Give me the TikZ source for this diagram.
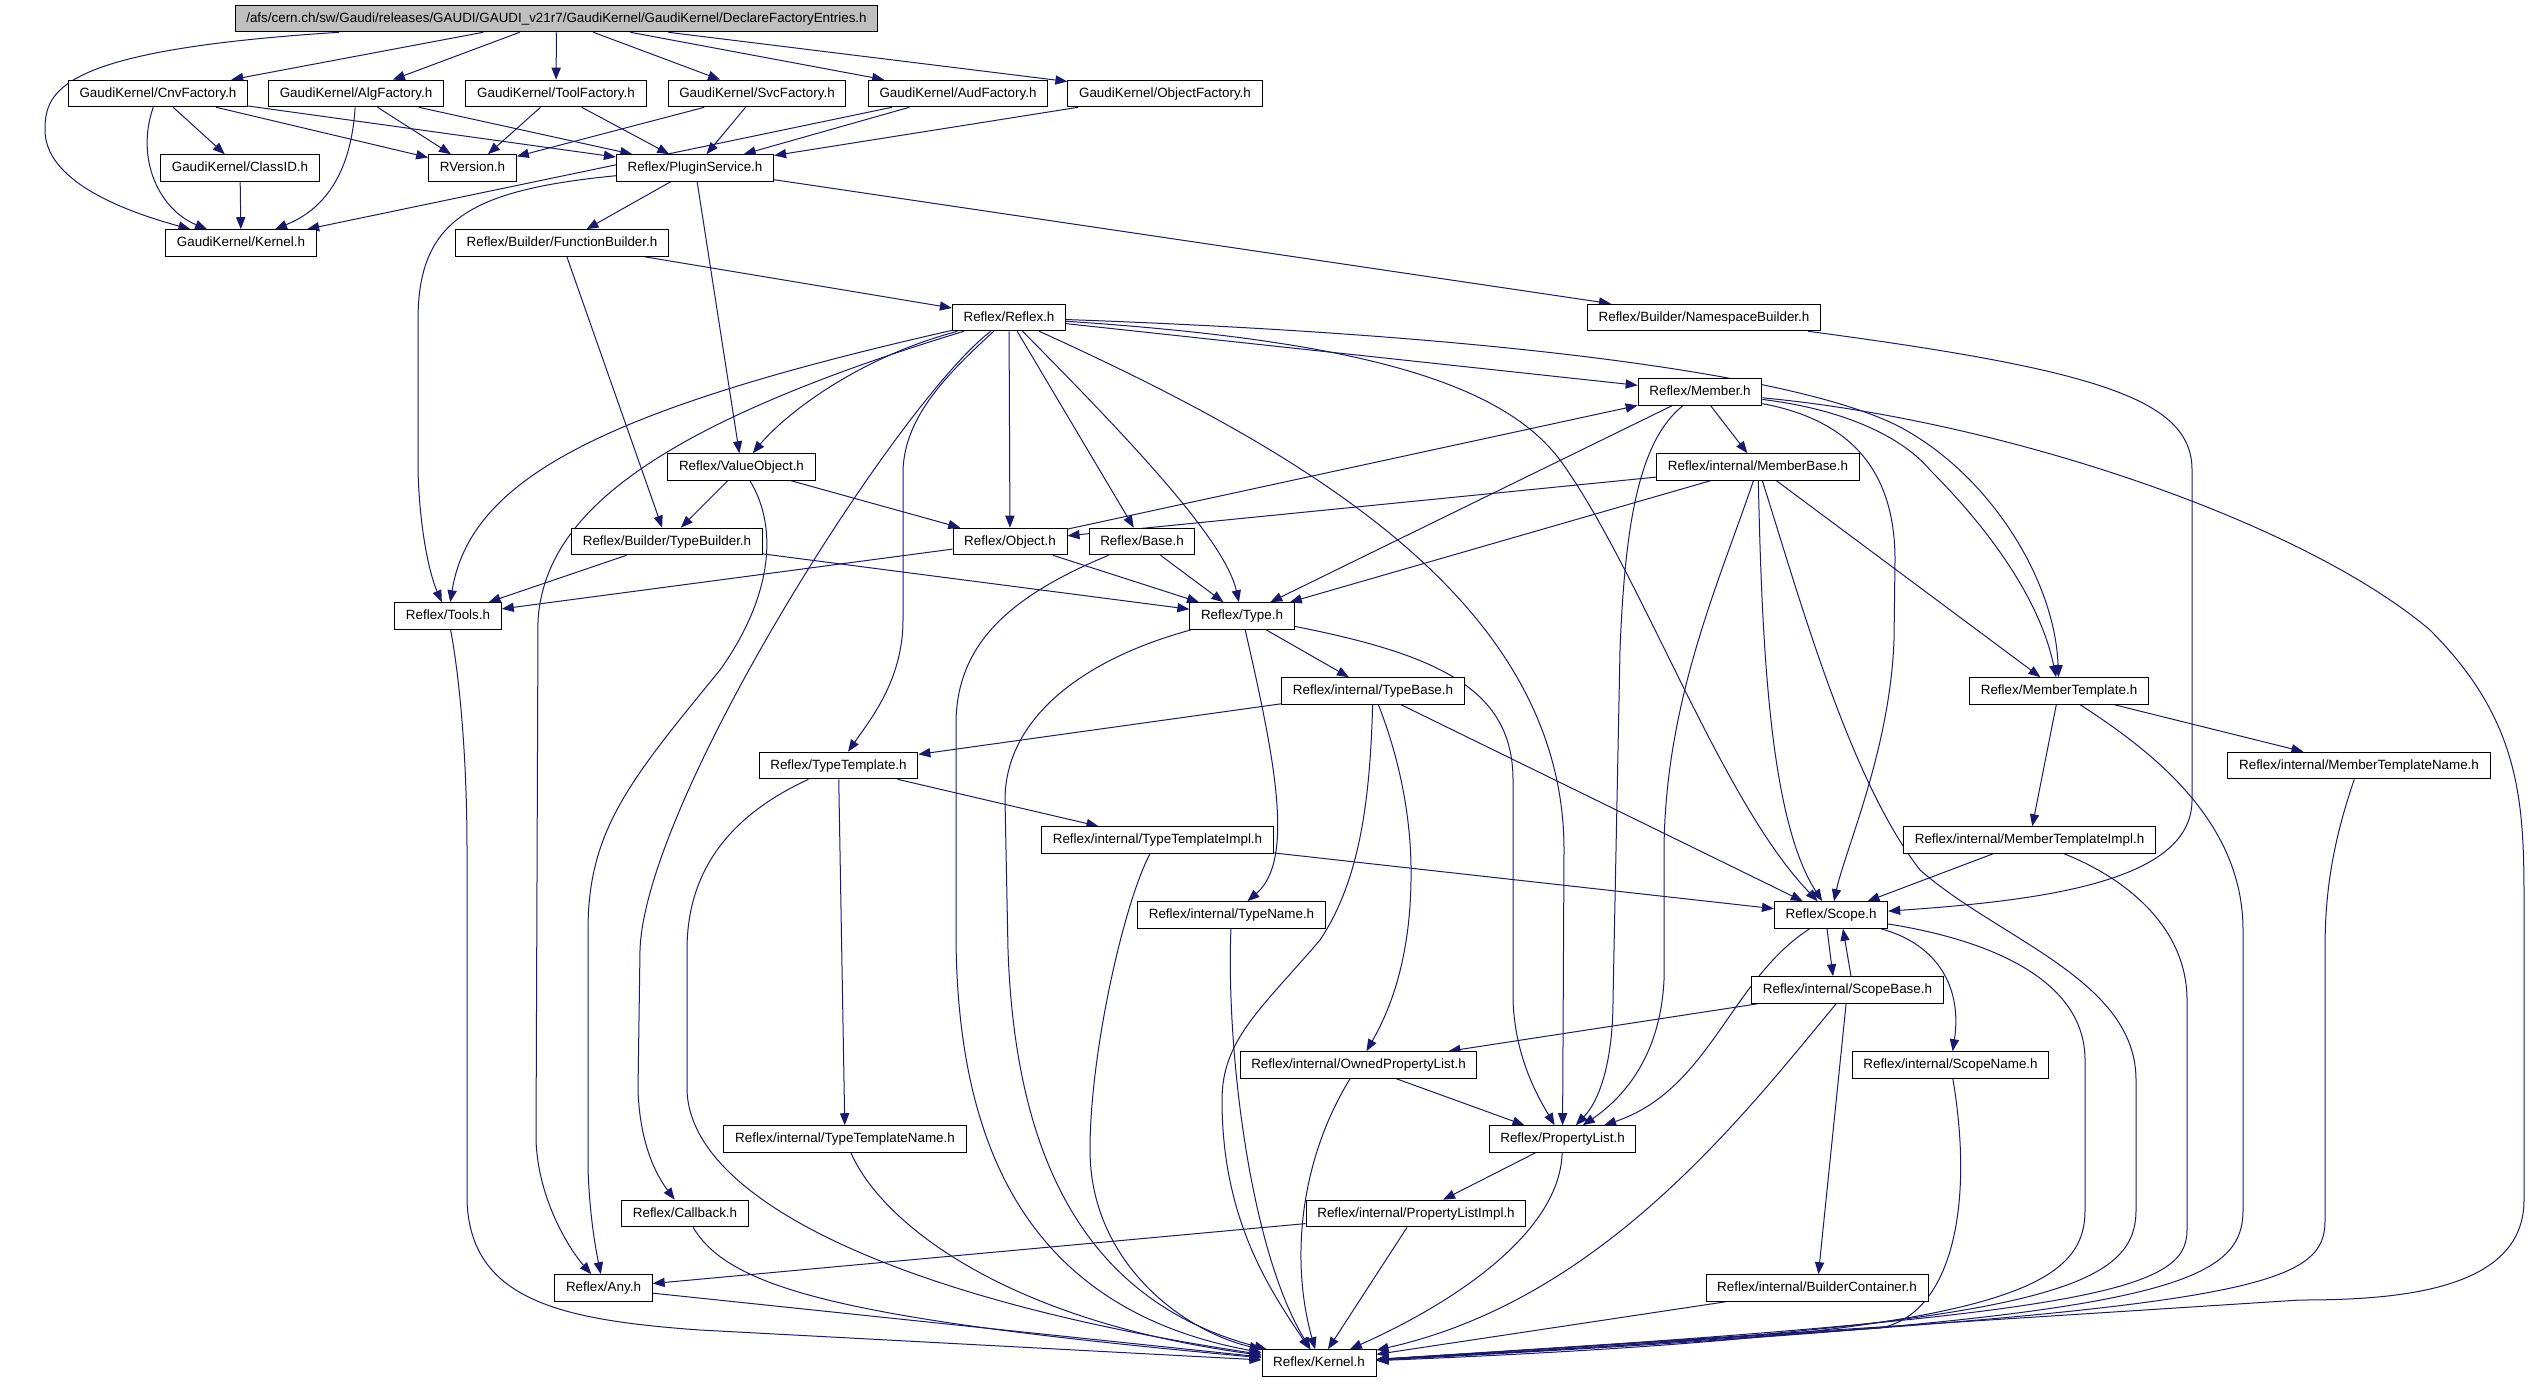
\documentclass[tikz,border=0pt]{standalone}
\usepackage{fontspec}
\setmainfont{Liberation Sans}
\usetikzlibrary{graphs}
\usetikzlibrary{arrows.meta}
\definecolor{midnight}{RGB}{25,25,112}
\pgfdeclarelayer{background}
\pgfsetlayers{background,main}
\tikzset{
  hdr/.style={draw=black, line width=0.5pt, fill=white, inner xsep=5.6pt, inner ysep=0pt,
    minimum height=13.3pt, text height=5pt, text depth=1.4pt, font=\fontsize{6.7}{8}\selectfont},
  rootfile/.style={hdr, fill=black!25},
  dep/.style={draw=midnight, line width=0.5pt}
}

\begin{document}
\begin{tikzpicture}[x=0.5pt, y=0.5pt, >={Triangle[length=6pt,width=4.6pt]}]
    \useasboundingbox (0,0) rectangle (2530,-1381);

    \node (declfe)       [rootfile] at (556.5,-18.5) {/afs/cern.ch/sw/Gaudi/releases/GAUDI/GAUDI\_v21r7/GaudiKernel/GaudiKernel/DeclareFactoryEntries.h};
    \node (cnvfac)       [hdr] at (158,-93.5)    {GaudiKernel/CnvFactory.h};
    \node (algfac)       [hdr] at (356,-93.5)    {GaudiKernel/AlgFactory.h};
    \node (toolfac)      [hdr] at (556,-93.5)    {GaudiKernel/ToolFactory.h};
    \node (svcfac)       [hdr] at (757,-93.5)    {GaudiKernel/SvcFactory.h};
    \node (audfac)       [hdr] at (958,-93.5)    {GaudiKernel/AudFactory.h};
    \node (objfac)       [hdr] at (1165,-93.5)   {GaudiKernel/ObjectFactory.h};
    \node (classid)      [hdr] at (240,-168)     {GaudiKernel/ClassID.h};
    \node (rversion)     [hdr] at (472.5,-168)   {RVersion.h};
    \node (plugin)       [hdr] at (695,-168)     {Reflex/PluginService.h};
    \node (gkern)        [hdr] at (241,-243)     {GaudiKernel/Kernel.h};
    \node (funcb)        [hdr] at (562,-243)     {Reflex/Builder/FunctionBuilder.h};
    \node (reflex)       [hdr] at (1009,-317.5)  {Reflex/Reflex.h};
    \node (nsb)          [hdr] at (1704,-317.5)  {Reflex/Builder/NamespaceBuilder.h};
    \node (member)       [hdr] at (1700,-392)    {Reflex/Member.h};
    \node (valobj)       [hdr] at (741.5,-467)   {Reflex/ValueObject.h};
    \node (membase)      [hdr] at (1758,-467)    {Reflex/internal/MemberBase.h};
    \node (typeb)        [hdr] at (667,-541.5)   {Reflex/Builder/TypeBuilder.h};
    \node (object)       [hdr] at (1010,-541.5)  {Reflex/Object.h};
    \node (base)         [hdr] at (1142,-541.5)  {Reflex/Base.h};
    \node (tools)        [hdr] at (448,-616)     {Reflex/Tools.h};
    \node (type)         [hdr] at (1242,-616)    {Reflex/Type.h};
    \node (typebase)     [hdr] at (1373,-691)    {Reflex/internal/TypeBase.h};
    \node (memtmpl)      [hdr] at (2059,-691)    {Reflex/MemberTemplate.h};
    \node (typetmpl)     [hdr] at (838.5,-765.5) {Reflex/TypeTemplate.h};
    \node (memtmplname)  [hdr] at (2359,-765.5)  {Reflex/internal/MemberTemplateName.h};
    \node (typetmplimpl) [hdr] at (1157.5,-840)  {Reflex/internal/TypeTemplateImpl.h};
    \node (memtmplimpl)  [hdr] at (2029.5,-840)  {Reflex/internal/MemberTemplateImpl.h};
    \node (typename)     [hdr] at (1231.5,-915)  {Reflex/internal/TypeName.h};
    \node (scope)        [hdr] at (1831,-915)    {Reflex/Scope.h};
    \node (scopebase)    [hdr] at (1847.5,-990)  {Reflex/internal/ScopeBase.h};
    \node (ownedpl)      [hdr] at (1358.5,-1065) {Reflex/internal/OwnedPropertyList.h};
    \node (scopename)    [hdr] at (1950.5,-1065) {Reflex/internal/ScopeName.h};
    \node (proplist)     [hdr] at (1562.5,-1139) {Reflex/PropertyList.h};
    \node (typetmplname) [hdr] at (845,-1139)    {Reflex/internal/TypeTemplateName.h};
    \node (callback)     [hdr] at (685,-1213.5)  {Reflex/Callback.h};
    \node (proplistimpl) [hdr] at (1416,-1213.5) {Reflex/internal/PropertyListImpl.h};
    \node (any)          [hdr] at (603.5,-1288)  {Reflex/Any.h};
    \node (buildcont)    [hdr] at (1817,-1288)   {Reflex/internal/BuilderContainer.h};
    \node (rkern)        [hdr] at (1319,-1363)   {Reflex/Kernel.h};

    \begin{pgfonlayer}{background}
    \graph[use existing nodes, edges={dep}]{
        declfe -> {cnvfac, algfac, toolfac, svcfac, audfac, objfac};
        cnvfac -> {classid, rversion, plugin};
        algfac -> {rversion, plugin};
        toolfac -> {rversion, plugin};
        svcfac -> {rversion, plugin};
        audfac -> {gkern, plugin};
        objfac -> plugin;
        classid -> gkern;
        plugin -> {funcb, valobj, nsb};
        funcb -> {reflex, typeb};
        reflex -> {object, base, member};
        member -> {membase, type};
        valobj -> {object, typeb};
        membase -> {object, type, memtmpl};
        typeb -> {tools, type};
        object -> {tools, type, member};
        base -> type;
        type -> typebase;
        typebase -> {typetmpl, scope};
        memtmpl -> {memtmplimpl, memtmplname};
        typetmpl -> {typetmplimpl, typetmplname};
        typetmplimpl -> scope;
        memtmplimpl -> scope;
        scopebase -> {ownedpl, buildcont};
        ownedpl -> proplist;
        proplist -> proplistimpl;
        proplistimpl -> {any, rkern};
        any -> rkern;
        buildcont -> rkern;
    };

    % curved dependencies
    \draw[dep,->] (declfe) .. controls (60,-50) and (45,-90) .. (45,-130) .. controls (45,-180) and (120,-210) .. (gkern);
    \draw[dep,->] (cnvfac) .. controls (135,-160) and (160,-210) .. (gkern);
    \draw[dep,->] (algfac) .. controls (350,-190) and (310,-215) .. (gkern);
    \draw[dep,->] (plugin) .. controls (470,-190) and (418,-220) .. (418,-320) -- (418,-470) .. controls (420,-540) and (432,-580) .. (tools);
    \draw[dep,->] (nsb) .. controls (2100,-370) and (2192,-400) .. (2192,-470) -- (2192,-800) .. controls (2192,-880) and (2050,-900) .. (scope);

    \draw[dep,->] (reflex) .. controls (600,-410) and (470,-480) .. (tools);
    \draw[dep,->] (reflex) .. controls (640,-430) and (545,-520) .. (538,-620) -- (536,-1140) .. controls (538,-1200) and (570,-1250) .. (any);
    \draw[dep,->] (reflex) .. controls (850,-360) and (780,-420) .. (valobj);
    \draw[dep,->] (reflex) .. controls (900,-400) and (645,-800) .. (640,-950) -- (638,-1090) .. controls (640,-1150) and (660,-1180) .. (callback);
    \draw[dep,->] (reflex) .. controls (940,-380) and (905,-420) .. (903,-470) -- (903,-620) .. controls (903,-680) and (870,-720) .. (typetmpl);
    \draw[dep,->] (reflex) .. controls (1130,-440) and (1225,-540) .. (type);
    \draw[dep,->] (reflex) .. controls (1300,-450) and (1564,-600) .. (1564,-850) -- (proplist);
    \draw[dep,->] (reflex) .. controls (1350,-340) and (1500,-380) .. (1560,-460) .. controls (1640,-570) and (1720,-800) .. (scope);
    \draw[dep,->] (reflex) .. controls (1500,-335) and (1800,-375) .. (1900,-427) .. controls (1990,-475) and (2055,-580) .. (memtmpl);

    \draw[dep,->] (member) .. controls (1640,-440) and (1625,-520) .. (1620,-650) -- (1613,-1000) .. controls (1613,-1060) and (1600,-1100) .. (proplist);
    \draw[dep,->] (member) .. controls (1850,-420) and (1895,-470) .. (1895,-560) -- (1894,-640) .. controls (1890,-750) and (1845,-850) .. (scope);
    \draw[dep,->] (member) .. controls (1850,-410) and (1905,-440) .. (1930,-470) .. controls (1990,-530) and (2040,-600) .. (memtmpl);
    \draw[dep,->] (member) .. controls (2000,-420) and (2300,-520) .. (2430,-630) .. controls (2520,-720) and (2524,-800) .. (2524,-900) -- (2524,-1200) .. controls (2524,-1290) and (2400,-1300) .. (2300,-1300) -- (rkern);

    \draw[dep,->] (valobj) .. controls (780,-530) and (770,-600) .. (720,-670) .. controls (630,-780) and (588,-830) .. (588,-930) -- (588,-1170) .. controls (590,-1220) and (596,-1250) .. (any);

    \draw[dep,->] (membase) .. controls (1720,-580) and (1665,-700) .. (1664,-850) -- (1664,-980) .. controls (1660,-1060) and (1620,-1100) .. (proplist);
    \draw[dep,->] (membase) .. controls (1762,-650) and (1770,-820) .. (scope);
    \draw[dep,->] (membase) .. controls (1800,-600) and (1850,-780) .. (1920,-870) .. controls (2000,-940) and (2136,-980) .. (2136,-1080) -- (2136,-1210) .. controls (2136,-1290) and (2040,-1325) .. (rkern);

    \draw[dep,->] (base) .. controls (1000,-600) and (958,-650) .. (956,-720) -- (956,-940) .. controls (958,-1150) and (1030,-1310) .. (rkern);
    \draw[dep,->] (tools) .. controls (460,-680) and (467,-760) .. (467,-850) -- (467,-1200) .. controls (470,-1300) and (560,-1320) .. (700,-1330) -- (rkern);

    \draw[dep,->] (type) .. controls (1275,-760) and (1295,-860) .. (typename);
    \draw[dep,->] (type) .. controls (1440,-655) and (1513,-690) .. (1513,-780) -- (1513,-1000) .. controls (1515,-1060) and (1540,-1100) .. (proplist);
    \draw[dep,->] (type) .. controls (1080,-660) and (1005,-720) .. (1005,-800) -- (1008,-950) .. controls (1015,-1150) and (1080,-1300) .. (rkern);

    \draw[dep,->] (typebase) .. controls (1400,-760) and (1412,-820) .. (1411,-880) .. controls (1410,-960) and (1390,-1010) .. (ownedpl);
    \draw[dep,->] (typebase) .. controls (1370,-800) and (1360,-880) .. (1320,-940) .. controls (1260,-1010) and (1222,-1040) .. (1222,-1100) .. controls (1222,-1220) and (1270,-1290) .. (rkern);
    \draw[dep,->] (typename) .. controls (1226,-1050) and (1250,-1250) .. (rkern);

    \draw[dep,->] (typetmpl) .. controls (720,-820) and (687,-880) .. (687,-950) -- (687,-1090) .. controls (690,-1200) and (900,-1300) .. (rkern);
    \draw[dep,->] (typetmplimpl) .. controls (1125,-900) and (1090,-1050) .. (1090,-1150) .. controls (1090,-1260) and (1180,-1330) .. (rkern);
    \draw[dep,->] (typetmplname) .. controls (880,-1220) and (1000,-1320) .. (rkern);
    \draw[dep,->] (callback) .. controls (730,-1290) and (850,-1320) .. (rkern);

    \draw[dep,->] (memtmpl) .. controls (2150,-750) and (2243,-820) .. (2243,-930) -- (2243,-1210) .. controls (2243,-1290) and (2150,-1320) .. (rkern);
    \draw[dep,->] (memtmplname) .. controls (2330,-850) and (2325,-900) .. (2325,-950) -- (2325,-1220) .. controls (2325,-1290) and (2250,-1310) .. (rkern);
    \draw[dep,->] (memtmplimpl) .. controls (2130,-880) and (2187,-930) .. (2187,-1000) -- (2187,-1230) .. controls (2187,-1290) and (2100,-1315) .. (rkern);

    \draw[dep,->] ([xshift=-2pt]scope.south) -- ([xshift=-7.25pt]scopebase.north);
    \draw[dep,->] ([xshift=1.75pt]scopebase.north) -- ([xshift=6pt]scope.south);
    \draw[dep,->] (scope) .. controls (1940,-945) and (1962,-990) .. (scopename);
    \draw[dep,->] (scope) .. controls (1730,-980) and (1710,-1090) .. (proplist);
    \draw[dep,->] (scope) .. controls (1990,-940) and (2085,-980) .. (2085,-1060) -- (2085,-1210) .. controls (2085,-1290) and (2000,-1335) .. (rkern);
    \draw[dep,->] (scopebase) .. controls (1740,-1120) and (1600,-1300) .. (rkern);
    \draw[dep,->] (ownedpl) .. controls (1300,-1160) and (1290,-1260) .. (rkern);
    \draw[dep,->] (scopename) .. controls (1975,-1210) and (1950,-1315) .. (1880,-1328) -- (rkern);
    \draw[dep,->] (proplist) .. controls (1560,-1230) and (1460,-1300) .. (rkern);
    \end{pgfonlayer}
\end{tikzpicture}
\end{document}
